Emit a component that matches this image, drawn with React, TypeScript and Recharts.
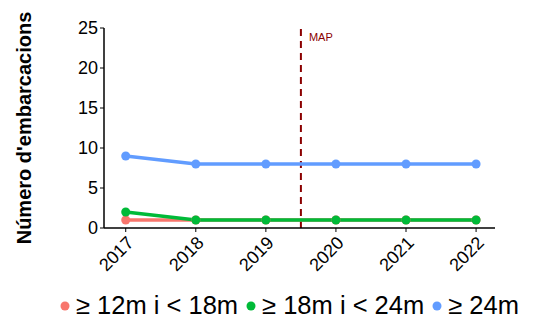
import React from "react";
import {
  LineChart, Line, XAxis, YAxis, ReferenceLine, Legend,
} from "recharts";

const years = [2017, 2018, 2019, 2020, 2021, 2022];
const small = [1, 1, 1, 1, 1, 1];
const medium = [2, 1, 1, 1, 1, 1];
const large = [9, 8, 8, 8, 8, 8];
const yTicks = [0, 5, 10, 15, 20, 25];

const series = [
  { key: "small", name: "≥ 12m i < 18m", color: "#F8766D" },
  { key: "medium", name: "≥ 18m i < 24m", color: "#00BA38" },
  { key: "large", name: "≥ 24m", color: "#619CFF" },
];

const data = years.map((y, i) => ({
  year: y,
  small: small[i],
  medium: medium[i],
  large: large[i],
}));

const font = "'Liberation Sans', Arial, sans-serif";

function LegendContent() {
  return (
    <div style={{ display: "flex", flexWrap: "nowrap", alignItems: "center", whiteSpace: "nowrap", fontFamily: font, fontSize: 25.5, color: "#000", paddingLeft: 60, paddingTop: 8 }}>
      {series.map((s, i) => (
        <div key={s.key} style={{ display: "flex", flexShrink: 0, alignItems: "center", marginLeft: i === 0 ? 0 : 8 }}>
          <svg width={10} height={12} style={{ marginRight: 6, flexShrink: 0 }}>
            <circle cx={5} cy={6} r={4.5} fill={s.color} />
          </svg>
          <span>{s.name}</span>
        </div>
      ))}
    </div>
  );
}

function YLabel({ viewBox }: any) {
  const cy = viewBox.y + viewBox.height / 2;
  return (
    <text
      x={31}
      y={cy}
      transform={`rotate(-90 31 ${cy})`}
      textAnchor="middle"
      fontFamily={font}
      fontSize={20}
      fontWeight="bold"
      fill="#000"
    >
      Número d'embarcacions
    </text>
  );
}

function MapLabel({ viewBox }: any) {
  return (
    <text x={viewBox.x + 8} y={viewBox.y + 13} fontFamily={font} fontSize={11} fill="#8B0000">
      MAP
    </text>
  );
}

export default function App() {
  return (
    <div style={{ position: "absolute", left: 0, top: 0, background: "#fff" }}>
      <LineChart width={551} height={323} data={data} margin={{ top: 28, right: 56, bottom: 6, left: 0 }}>
        <XAxis
          dataKey="year"
          type="number"
          domain={[2016.69, 2022.27]}
          ticks={years}
          allowDataOverflow
          height={55}
          tickSize={4}
          tickMargin={3}
          tickLine={{ stroke: "#000" }}
          axisLine={{ stroke: "#000", strokeWidth: 1.5 }}
          tick={{ fill: "#000", fontSize: 18, fontFamily: font }}
          angle={-45}
          textAnchor="end"
        />
        <YAxis
          domain={[0, 25]}
          ticks={yTicks}
          width={104}
          tickSize={4}
          tickMargin={2}
          tickLine={{ stroke: "#000" }}
          axisLine={{ stroke: "#000", strokeWidth: 1.5 }}
          tick={{ fill: "#000", fontSize: 18, fontFamily: font }}
          label={<YLabel />}
        />
        <ReferenceLine
          x={2019.5}
          stroke="#8B0000"
          strokeWidth={2}
          strokeDasharray="7 5"
          label={<MapLabel />}
        />
        {series.map((s) => (
          <Line
            key={s.key}
            dataKey={s.key}
            name={s.name}
            stroke={s.color}
            strokeWidth={3.5}
            dot={{ r: 4.5, fill: s.color, stroke: s.color, strokeWidth: 0 }}
            isAnimationActive={false}
          />
        ))}
        <Legend
          verticalAlign="bottom"
          height={34}
          wrapperStyle={{ left: 0, width: 551 }}
          content={<LegendContent />}
        />
      </LineChart>
    </div>
  );
}
